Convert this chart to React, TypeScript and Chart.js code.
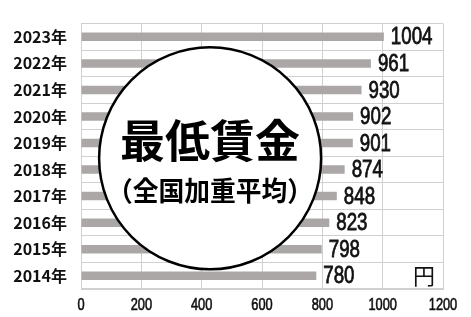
import React, { useEffect, useRef } from "react";
import { Chart, registerables } from "chart.js";

Chart.register(...registerables);

const years = ["2023年", "2022年", "2021年", "2020年", "2019年", "2018年", "2017年", "2016年", "2015年", "2014年"];
const wages = [1004, 961, 930, 902, 901, 874, 848, 823, 798, 780];
const xTicks = [0, 200, 400, 600, 800, 1000, 1200];
const unitLabel = "円";
const titleMain = "最低賃金";
const titleSub = "（全国加重平均）";

const NUM_FONT = "'Liberation Sans', Arial, sans-serif";

function drawCondensed(ctx: any, text: string, x: number, y: number, sx: number, align: string, sw: number) {
  ctx.save();
  ctx.translate(x, y);
  ctx.scale(sx, 1);
  ctx.textAlign = align;
  ctx.fillText(text, 0, 0);
  if (sw > 0) {
    ctx.lineWidth = sw;
    ctx.strokeStyle = ctx.fillStyle;
    ctx.strokeText(text, 0, 0);
  }
  ctx.restore();
}

const overlayPlugin = {
  id: "overlay",
  afterDatasetsDraw(chart: any) {
    const { ctx, chartArea, scales } = chart;
    const xs = scales.x;
    const cx = xs.getPixelForValue(428);
    const cy = (chartArea.top + chartArea.bottom) / 2 + 2;
    const r = 111;
    ctx.save();
    ctx.beginPath();
    ctx.arc(cx, cy, r, 0, Math.PI * 2);
    ctx.fillStyle = "#ffffff";
    ctx.fill();
    ctx.lineWidth = 2.5;
    ctx.strokeStyle = "#000000";
    ctx.stroke();
    ctx.fillStyle = "#000000";
    ctx.textAlign = "center";
    ctx.textBaseline = "middle";
    ctx.font = "bold 45px 'Noto Sans CJK JP'";
    ctx.fillText(titleMain, cx, cy - 17);
    ctx.font = "bold 27px 'Noto Sans CJK JP'";
    ctx.fillText(titleSub, cx, cy + 32, 206);
    ctx.restore();

    // value labels
    const meta = chart.getDatasetMeta(0);
    ctx.save();
    ctx.fillStyle = "#111111";
    ctx.font = "24px " + NUM_FONT;
    ctx.textBaseline = "middle";
    meta.data.forEach((bar: any, i: number) => {
      drawCondensed(ctx, String(wages[i]), bar.x + 7, bar.y + 1, 0.78, "left", 0.8);
    });
    // unit
    const last = meta.data[meta.data.length - 1];
    ctx.font = "22px 'Noto Sans CJK JP'";
    ctx.textAlign = "right";
    ctx.fillText(unitLabel, chartArea.right - 8, last.y);

    // x tick labels (condensed)
    ctx.font = "16px " + NUM_FONT;
    ctx.textBaseline = "middle";
    xTicks.forEach((v) => {
      drawCondensed(ctx, String(v), xs.getPixelForValue(v), chartArea.bottom + 17, 0.8, "center", 0.6);
    });
    ctx.restore();
  },
};

export default function App() {
  const ref = useRef<HTMLCanvasElement>(null);
  useEffect(() => {
    document.body.style.margin = "0";
    const chart = new Chart(ref.current as HTMLCanvasElement, {
      type: "bar",
      data: {
        labels: years,
        datasets: [
          {
            data: wages,
            backgroundColor: "#aba7a7",
            barPercentage: 0.32,
            categoryPercentage: 1,
          },
        ],
      },
      options: {
        indexAxis: "y",
        animation: false,
        responsive: false,
        layout: { padding: { top: 5, right: 28, left: 0, bottom: 0 } },
        plugins: { legend: { display: false }, tooltip: { enabled: false } },
        scales: {
          x: {
            min: 0,
            max: 1200,
            afterBuildTicks: (s: any) => {
              s.ticks = xTicks.map((v) => ({ value: v }));
            },
            afterFit: (s: any) => {
              s.height = 28;
            },
            grid: { color: "#d0d0d0", drawTicks: false, lineWidth: 1 },
            border: { color: "#d0d0d0" },
            ticks: { display: false },
          },
          y: {
            afterFit: (s: any) => {
              s.width = 81;
            },
            grid: { color: "#d0d0d0", drawTicks: false, offset: true },
            border: { color: "#d0d0d0" },
            ticks: {
              padding: 14,
              color: "#111111",
              font: { family: "'Noto Sans CJK JP'", size: 16, weight: "bold" },
            },
          },
        },
      },
      plugins: [overlayPlugin],
    });
    return () => chart.destroy();
  }, []);
  return <canvas ref={ref} width={471} height={317} style={{ display: "block" }} />;
}
